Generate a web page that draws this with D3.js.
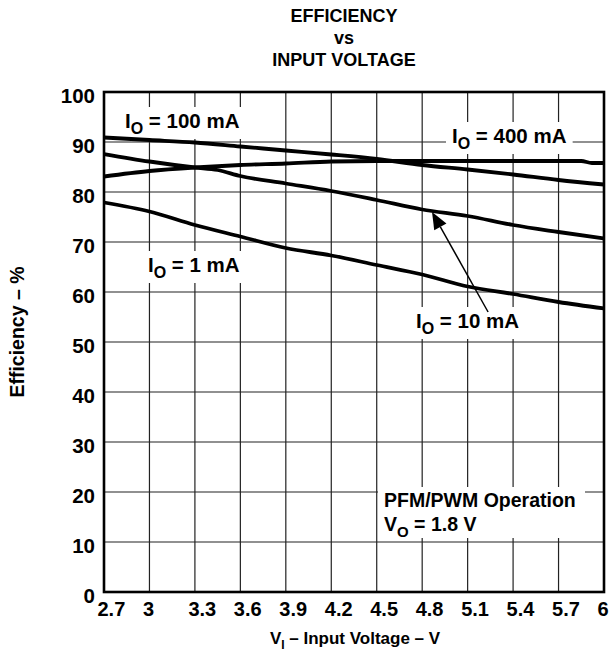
<!DOCTYPE html>
<html><head><meta charset="utf-8">
<script src="https://cdn.jsdelivr.net/npm/d3@7/dist/d3.min.js"></script>
<style>
body{margin:0;background:#fff;}
text{font-family:"Liberation Sans",Arial,Helvetica,sans-serif;font-weight:bold;fill:#000;}
</style></head><body>
<svg id="chart" width="611" height="656"></svg>
<script>
// ---- data ----
const xTicks = [2.7, 3.0, 3.3, 3.6, 3.9, 4.2, 4.5, 4.8, 5.1, 5.4, 5.7, 6.0];
const xTickLabels = ["2.7", "3", "3.3", "3.6", "3.9", "4.2", "4.5", "4.8", "5.1", "5.4", "5.7", "6"];
const yTicks = [0, 10, 20, 30, 40, 50, 60, 70, 80, 90, 100];

const v100 = [2.7, 3.0, 3.3, 3.6, 3.9, 4.2, 4.5, 4.8, 5.1, 5.4, 5.7, 6.0];
const eff100mA = [90.9, 90.4, 89.9, 89.1, 88.3, 87.5, 86.6, 85.4, 84.5, 83.5, 82.4, 81.5];

const v400 = [2.7, 3.0, 3.3, 3.6, 3.9, 4.2, 4.5, 4.8, 5.1, 5.4, 5.7, 5.85, 5.92, 6.0];
const eff400mA = [83.1, 84.2, 84.9, 85.4, 85.7, 86.1, 86.2, 86.2, 86.2, 86.2, 86.2, 86.2, 85.8, 85.8];

const v10 = [2.7, 3.0, 3.3, 3.45, 3.6, 3.9, 4.2, 4.5, 4.8, 5.1, 5.4, 5.7, 6.0];
const eff10mA = [87.6, 86.1, 84.9, 84.4, 83.2, 81.7, 80.2, 78.4, 76.5, 75.2, 73.4, 72.0, 70.7];

const v1 = [2.7, 3.0, 3.3, 3.6, 3.9, 4.2, 4.5, 4.8, 5.1, 5.4, 5.7, 6.0];
const eff1mA = [77.9, 76.1, 73.4, 71.1, 68.8, 67.3, 65.4, 63.5, 61.1, 59.6, 58.0, 56.7];

const arrow10mA = {from: [5.235, 56], to: [4.865, 76]};

// ---- layout ----
const svg = d3.select("#chart");
const x = d3.scaleLinear().domain([2.7, 6.0]).range([104, 604]);
const y = d3.scaleLinear().domain([0, 100]).range([592, 92]);

// title
const title = svg.append("g").attr("text-anchor", "middle");
title.append("text").attr("x", 344).attr("y", 22).style("font-size", "18px").text("EFFICIENCY");
title.append("text").attr("x", 344).attr("y", 44).style("font-size", "18px").text("vs");
title.append("text").attr("x", 344).attr("y", 66).style("font-size", "18px").text("INPUT VOLTAGE");

// grid
const grid = svg.append("g").attr("stroke", "#222").attr("stroke-width", 1.2);
grid.selectAll("line.v").data(xTicks).join("line")
  .attr("x1", d => x(d)).attr("x2", d => x(d)).attr("y1", y(0)).attr("y2", y(100));
grid.selectAll("line.h").data(yTicks).join("line")
  .attr("y1", d => y(d)).attr("y2", d => y(d)).attr("x1", x(2.7)).attr("x2", x(6.0));

// axes labels via d3 axes
const xAxis = d3.axisBottom(x).tickValues(xTicks).tickFormat((d, i) => xTickLabels[i]).tickSize(0);
const gx = svg.append("g").attr("transform", `translate(0,${y(0)})`).call(xAxis);
gx.select(".domain").remove();
gx.selectAll("text").attr("text-anchor", "start").attr("dx", -7).attr("y", 10).attr("dy", "0.71em")
  .style("font-size", "20px").style("font-family", null);

const yAxis = d3.axisLeft(y).tickValues(yTicks).tickSize(0);
const gy = svg.append("g").attr("transform", `translate(${x(2.7)},0)`).call(yAxis);
gy.select(".domain").remove();
gy.selectAll("text").attr("x", -9).attr("dy", "0.5em").style("font-size", "20.5px").style("font-family", null);
svg.selectAll(".tick text").attr("fill", "#000");

// axis titles
svg.append("text").attr("transform", "translate(24,332) rotate(-90)").attr("text-anchor", "middle")
  .style("font-size", "19.5px").text("Efficiency – %");
const xt = svg.append("text").attr("x", 355).attr("y", 644).attr("text-anchor", "middle").style("font-size", "17px");
xt.append("tspan").text("V");
xt.append("tspan").attr("dy", 5).style("font-size", "12px").text("I");
xt.append("tspan").attr("dy", -5).text(" – Input Voltage – V");

// labels with white background
const labels = svg.append("g");
function subLabel(px, py, main, sub, rest, bg) {
  const g = labels.append("g");
  const t = g.append("text").attr("x", px).attr("y", py).style("font-size", "20.5px");
  t.append("tspan").text(main);
  t.append("tspan").attr("dy", 6).style("font-size", "16px").text(sub);
  t.append("tspan").attr("dy", -6).text(rest);
  if (bg) {
    const b = t.node().getBBox();
    g.insert("rect", "text").attr("x", b.x - 6).attr("y", b.y - 2).attr("width", b.width + 12)
      .attr("height", b.height + 4).attr("fill", "#fff");
  }
  return g;
}
subLabel(125, 128, "I", "O", " = 100 mA", true);
subLabel(452, 143, "I", "O", " = 400 mA", true);
subLabel(148, 272, "I", "O", " = 1 mA", true);
subLabel(416, 328, "I", "O", " = 10 mA", true);

// PFM/PWM box
const pg = labels.append("g");
pg.append("rect").attr("x", 378).attr("y", 487).attr("width", 207).attr("height", 51).attr("fill", "#fff");
pg.append("text").attr("x", 384).attr("y", 507).style("font-size", "19.5px").text("PFM/PWM Operation");
const vo = pg.append("text").attr("x", 384).attr("y", 531).style("font-size", "19.5px");
vo.append("tspan").text("V");
vo.append("tspan").attr("dy", 6).style("font-size", "15px").text("O");
vo.append("tspan").attr("dy", -6).text(" = 1.8 V");

// curves
const line = d3.line().x(d => x(d[0])).y(d => y(d[1])).curve(d3.curveMonotoneX);
const series = [[v100, eff100mA], [v400, eff400mA], [v10, eff10mA], [v1, eff1mA]];
svg.append("g").selectAll("path").data(series).join("path")
  .attr("d", s => line(s[0].map((v, i) => [v, s[1][i]])))
  .attr("fill", "none").attr("stroke", "#000").attr("stroke-width", 3.8).attr("stroke-linejoin", "round");

// arrow
const ax1 = x(arrow10mA.from[0]), ay1 = y(arrow10mA.from[1]);
const ax2 = x(arrow10mA.to[0]), ay2 = y(arrow10mA.to[1]);
const ang = Math.atan2(ay2 - ay1, ax2 - ax1);
const hl = 17, hw = 7;
const bx = ax2 - hl * Math.cos(ang), by = ay2 - hl * Math.sin(ang);
svg.append("line").attr("x1", ax1).attr("y1", ay1).attr("x2", bx).attr("y2", by)
  .attr("stroke", "#000").attr("stroke-width", 1.5);
svg.append("path").attr("d", `M${ax2},${ay2}L${bx + hw * Math.sin(ang)},${by - hw * Math.cos(ang)}L${bx - hw * Math.sin(ang)},${by + hw * Math.cos(ang)}Z`)
  .attr("fill", "#000");

// frame
svg.append("rect").attr("x", x(2.7)).attr("y", y(100)).attr("width", x(6) - x(2.7)).attr("height", y(0) - y(100))
  .attr("fill", "none").attr("stroke", "#000").attr("stroke-width", 2.6);
</script>
</body></html>
